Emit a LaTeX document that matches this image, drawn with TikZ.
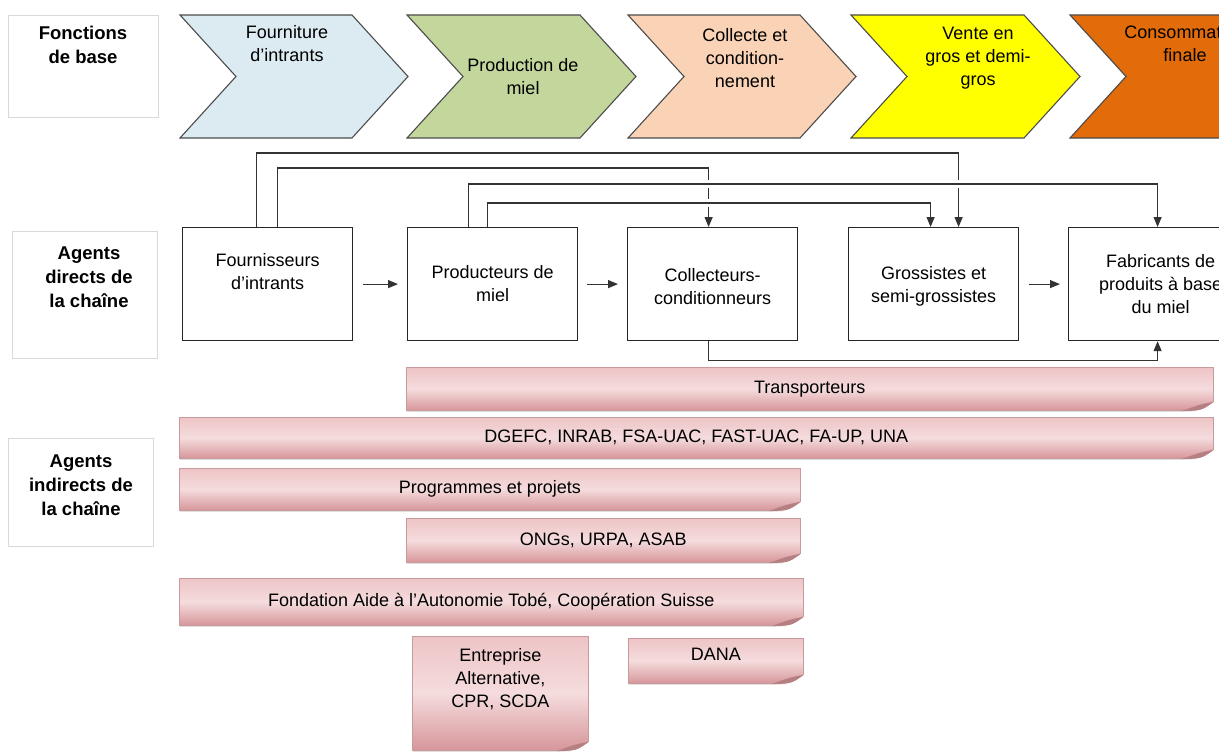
\documentclass[tikz,border=0pt]{standalone}
\usepackage{fontspec}
\setmainfont{Liberation Sans}
\usepackage{tikz}
\usetikzlibrary{arrows.meta,calc,positioning,shadows}

\definecolor{fnblue}{HTML}{DCEAF1}
\definecolor{fngreen}{HTML}{C3D69B}
\definecolor{fnpeach}{HTML}{FAD3B6}
\definecolor{fnyellow}{HTML}{FFFF00}
\definecolor{fnorange}{HTML}{E26B0A}
\definecolor{bartop}{HTML}{EDC4C6}
\definecolor{barmid}{HTML}{F5DCDD}
\definecolor{barbot}{HTML}{D6969A}
\definecolor{baredge}{HTML}{C99A9C}

\begin{document}
\begin{tikzpicture}[
    x=1pt, y=-1pt, >={Triangle[length=10pt,width=8pt]},
    every node/.style={font=\fontsize{18}{23}\selectfont},
    chev/.style={draw=black!70, line width=1.1pt, line join=miter},
    fntxt/.style={align=center, inner sep=0},
    side/.style={draw=black!15, fill=white, line width=0.8pt, anchor=north west, inner sep=0},
    sidetxt/.style={font=\bfseries\fontsize{18.5}{24}\selectfont, align=center, inner sep=0},
    agent/.style={draw=black!85, fill=white, line width=1.2pt, minimum width=170,
                  minimum height=113, inner sep=0, anchor=north west},
    agtxt/.style={align=center, inner sep=0},
    link/.style={->, draw=black!80, line width=1.2pt},
    jump/.style={preaction={draw=white, line width=8pt, -, shorten <=5pt, shorten >=5pt}},
    bar/.style={draw=baredge, line width=0.6pt, top color=bartop, bottom color=barbot,
                middle color=barmid, inner sep=0, anchor=north west,
                drop shadow={shadow xshift=1pt, shadow yshift=-1.5pt, opacity=0.25}}
]

% cadre
\path[use as bounding box] (0,0) rectangle (1219,752);
\clip (0,0) rectangle (1219,752);

% fonctions de base (chevrons)
\foreach \tl/\nt/\tr/\tp/\col in {180/236/352/408/fnblue, 407/463/580/636/fngreen,
    628/684/800/856/fnpeach, 851/907/1024/1080/fnyellow, 1070/1126/1265/1321/fnorange}
  \draw[chev, fill=\col] (\tl,15) -- (\tr,15) -- (\tp,76.5) -- (\tr,138)
        -- (\tl,138) -- (\nt,76.5) -- cycle;

\node[fntxt] (fourniture) at (287,44) {Fourniture\\d'intrants};
\node[fntxt] (production) at (523,77) {Production de\\miel};
\node[fntxt] (collecte) at (745,58) {Collecte et\\condition-\\nement};
\node[fntxt] (vente) at (978,58) {Vente en\\gros et demi-\\gros};
\node[fntxt] (consommation) at (1185,44) {Consommation\\finale};

% libelles de gauche
\node[side, minimum width=150, minimum height=102] (fonctions) at (8,15) {};
\node[sidetxt] (fonctionstxt) at (83,45) {Fonctions\\de base};
\node[side, minimum width=145, minimum height=127] (directs) at (12,231) {};
\node[sidetxt] (directstxt) at (89,277) {Agents\\directs de\\la chaîne};
\node[side, minimum width=145, minimum height=108] (indirects) at (8,438) {};
\node[sidetxt] (indirectstxt) at (81,485) {Agents\\indirects de\\la chaîne};

% agents directs
\node[agent] (fourn) at (182,227) {};
\node[agent] (prod) at (407,227) {};
\node[agent] (coll) at (627,227) {};
\node[agent] (gross) at (848,227) {};
\node[agent] (fab) at (1068,227) {};
\node[agtxt] (fourntxt) at ($(fourn.center)+(0,-13)$) {Fournisseurs\\d'intrants};
\node[agtxt] (prodtxt) at ($(prod.center)+(0,-1)$) {Producteurs de\\miel};
\node[agtxt] (colltxt) at ($(coll.center)+(0,2)$) {Collecteurs-\\conditionneurs};
\node[agtxt] (grosstxt) at ($(gross.center)+(0,2)$) {Grossistes et\\semi-grossistes};
\node[agtxt] (fabtxt) at ($(fab.center)+(7,0)$) {Fabricants de\\produits à base\\du miel};

% flux directs
\draw[link, shorten <=10pt, shorten >=9pt] (fourn.east) -- (prod.west);
\draw[link, shorten <=9pt, shorten >=9pt] (prod.east) -- (coll.west);
\draw[link, shorten <=10pt, shorten >=8pt] (gross.east) -- (fab.west);

% flux par-dessus
\draw[link] ([xshift=-11pt]fourn.north) -- ++(0,-74) -| ([xshift=25pt]gross.north);
\draw[link] ([xshift=10pt]fourn.north) -- ++(0,-59) -| ([xshift=-4pt]coll.north);
\draw[link, jump] ([xshift=-5pt]prod.north) -- ++(0,-24) -| ([xshift=-3pt]gross.north);
\draw[link, jump] ([xshift=-24pt]prod.north) -- ++(0,-43) -| ([xshift=4pt]fab.north);
\draw[link] ([xshift=-4pt]coll.south) -- ++(0,19) -| ([xshift=4pt]fab.south);

% agents indirects
\node[bar, minimum width=807, minimum height=43] (transp) at (406,367) {Transporteurs};
\node[bar, minimum width=1034, minimum height=41] (dgefc) at (179,417)
     {DGEFC, INRAB, FSA-UAC, FAST-UAC, FA-UP, UNA};
\node[bar, minimum width=621, minimum height=42] (progr) at (179,468) {Programmes et projets};
\node[bar, minimum width=394, minimum height=44] (ongs) at (406,518) {ONGs, URPA, ASAB};
\node[bar, minimum width=624, minimum height=47] (fond) at (179,578)
     {Fondation Aide à l'Autonomie Tobé, Coopération Suisse};
\node[bar, minimum width=176, minimum height=114] (entr) at (412,636) {};
\node[bar, minimum width=175, minimum height=45] (dana) at (628,638) {};
\node[agtxt, below=12pt of entr.north] (entrtxt) {Entreprise\\Alternative,\\CPR, SCDA};
\node[agtxt] (danatxt) at ($(dana.north)+(0,16)$) {DANA};

% coins replies
\foreach \b in {transp,dgefc,progr,ongs,fond,entr,dana} {
  \fill[white] ($(\b.south east)+(-32,0.5)$) .. controls ($(\b.south east)+(-12,0)$)
        .. ($(\b.south east)+(0.5,-9)$) -- ($(\b.south east)+(2,2)$) -- cycle;
  \fill[barbot!85!black] ($(\b.south east)+(-32,0.5)$) .. controls ($(\b.south east)+(-12,0)$)
        .. ($(\b.south east)+(0.5,-9)$) .. controls ($(\b.south east)+(-14,-6)$)
        .. cycle;
}

\end{tikzpicture}
\end{document}
